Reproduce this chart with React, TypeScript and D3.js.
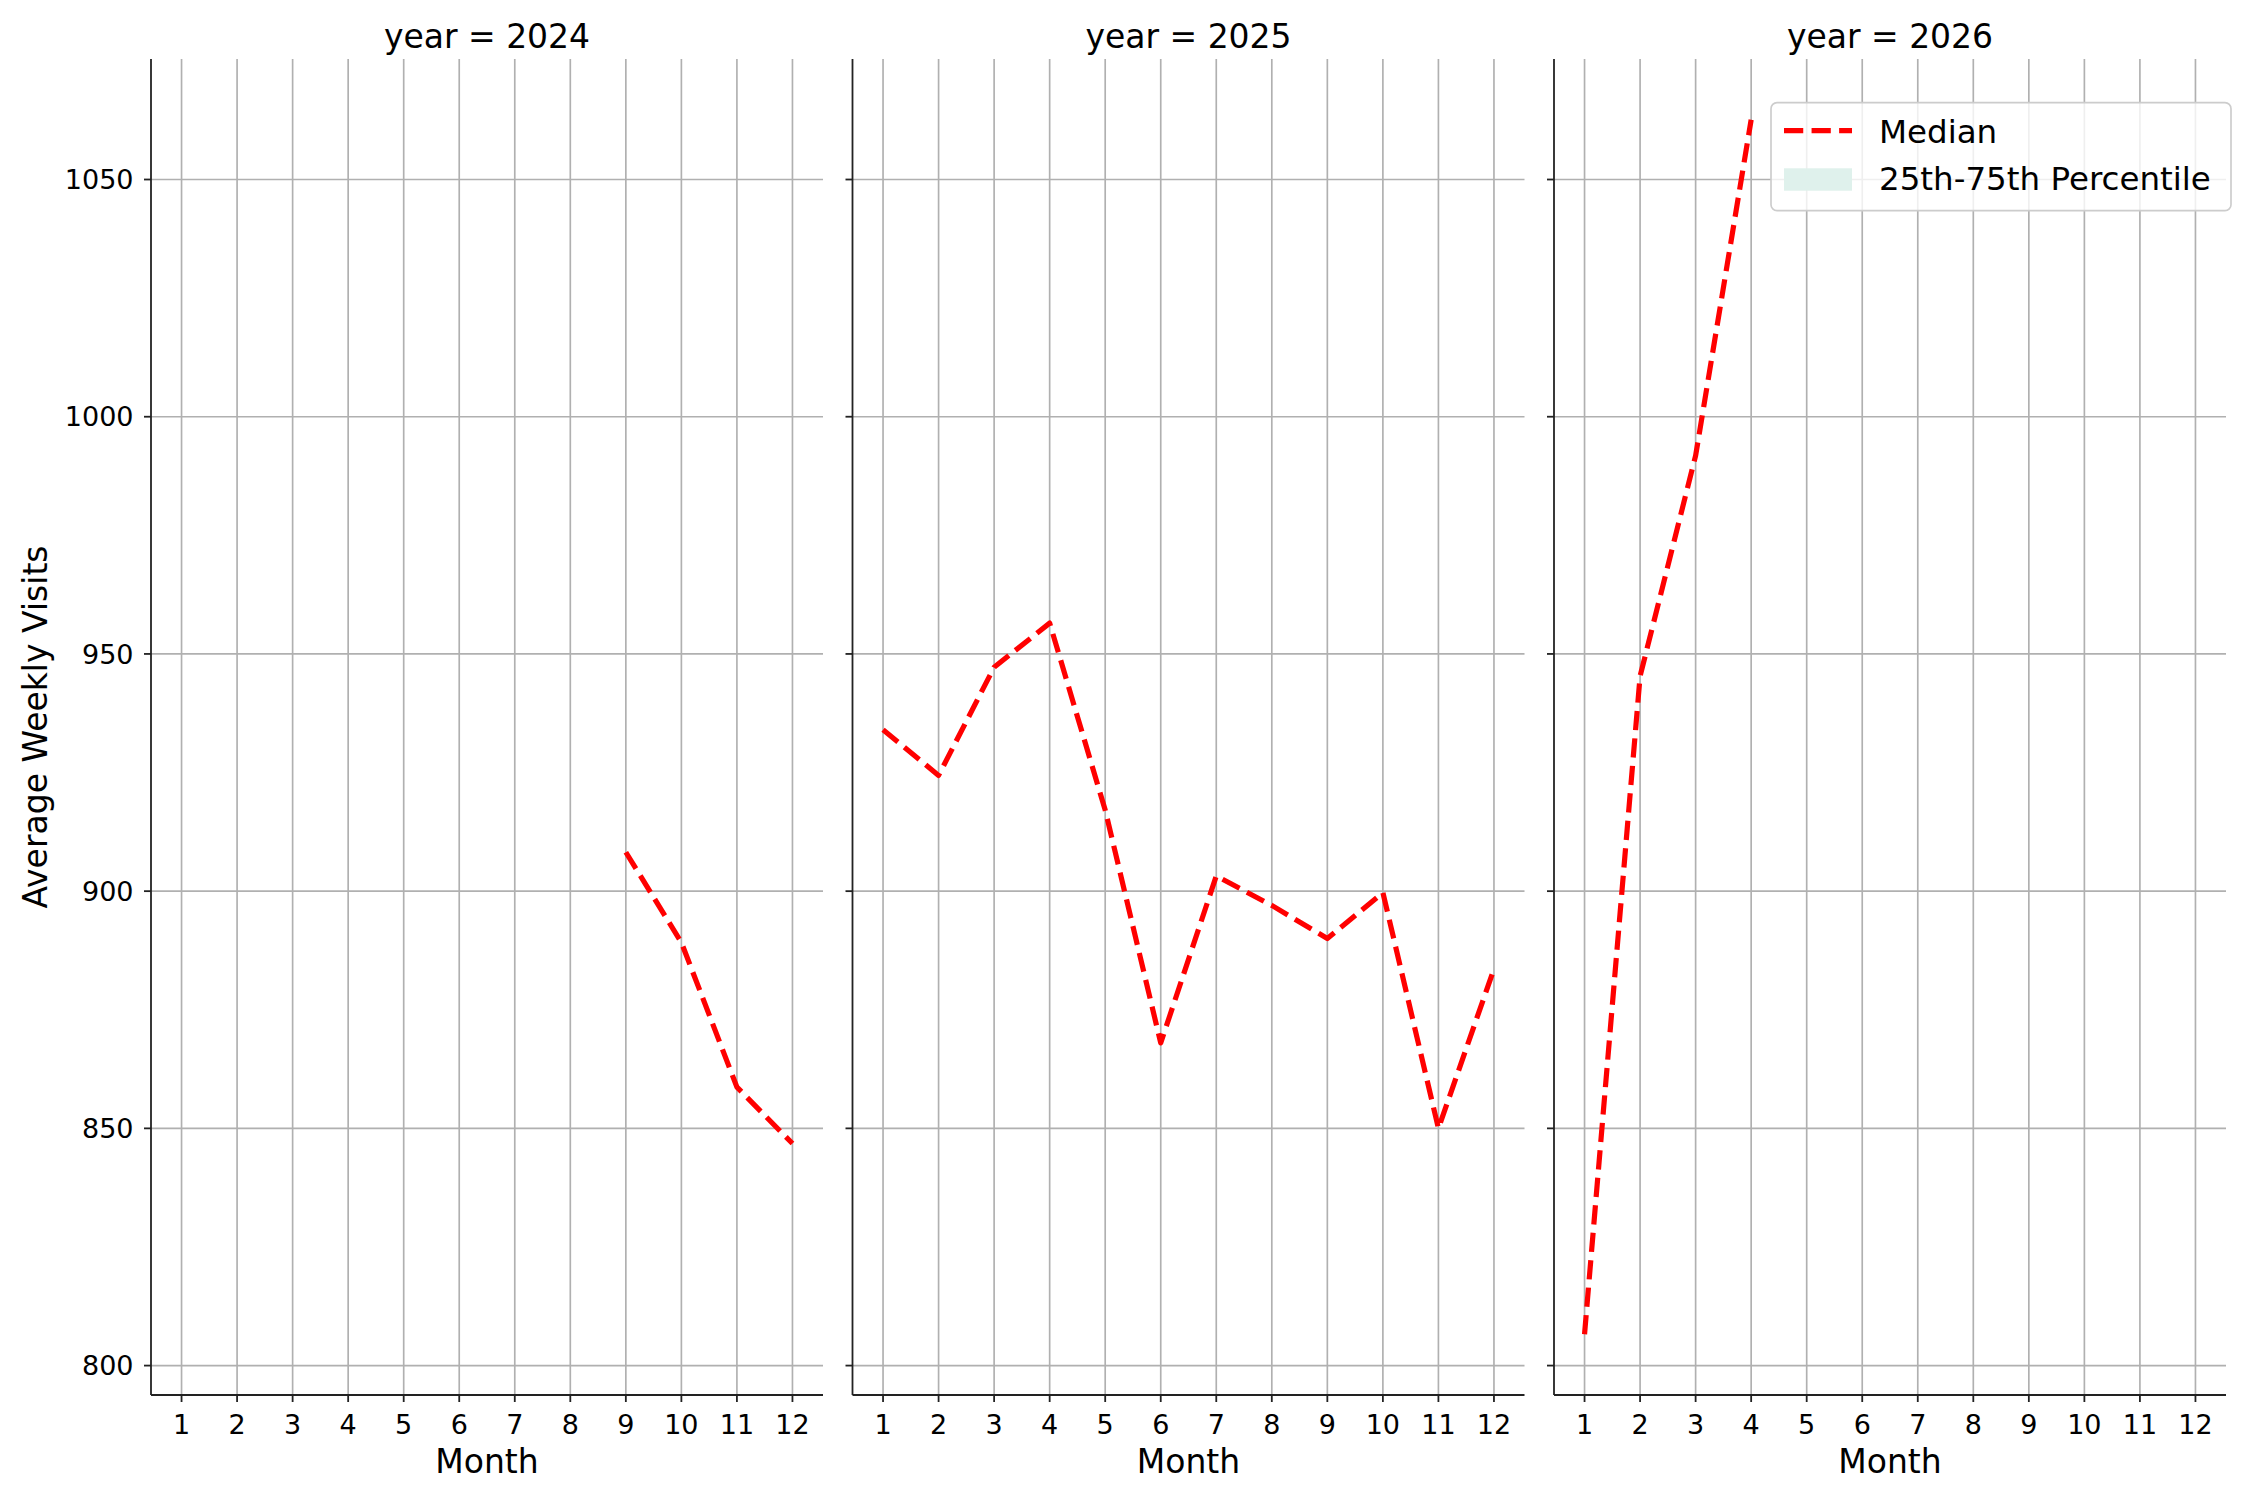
import * as d3 from "d3";

// data
const years = [2024, 2025, 2026];
const monthTicks = [1, 2, 3, 4, 5, 6, 7, 8, 9, 10, 11, 12];
const yTicks = [800, 850, 900, 950, 1000, 1050];

const months2024 = [9, 10, 11, 12];
const median2024 = [908.2, 889.2, 858.7, 846.8];

const months2025 = [1, 2, 3, 4, 5, 6, 7, 8, 9, 10, 11, 12];
const median2025 = [934.0, 924.4, 947.2, 956.5, 917.1, 868.0, 903.2, 897.0, 890.0, 899.7, 850.0, 883.6];

const months2026 = [1, 2, 3, 4];
const median2026 = [806.6, 945.3, 991.8, 1062.6];

const seriesByYear = [
  { months: months2024, values: median2024 },
  { months: months2025, values: median2025 },
  { months: months2026, values: median2026 },
];

const W = 2250;
const H = 1500;
const panelLefts = [151, 852.5, 1554];
const panelW = 672;
const top = 59;
const bottom = 1395;
const font = "'DejaVu Sans', sans-serif";
const lw = 5.2;
const dash = `${3.7 * lw} ${1.6 * lw}`;

export default function App() {
  const allVals = [...median2024, ...median2025, ...median2026];
  const [lo, hi] = d3.extent(allVals) as [number, number];
  const pad = (hi - lo) * 0.05;
  const y = d3.scaleLinear().domain([lo - pad, hi + pad]).range([bottom, top]);

  const x = d3.scaleLinear().domain([0.45, 12.55]).range([0, panelW]);

  const line = d3
    .line<[number, number]>()
    .x((d) => x(d[0]))
    .y((d) => y(d[1]));

  return (
    <svg width={W} height={H} style={{ display: "block", margin: -8, background: "#fff" }}>
      <rect width={W} height={H} fill="#fff" />
      {years.map((yr, i) => {
        const left = panelLefts[i];
        const s = seriesByYear[i];
        const pts = s.months.map((m, j) => [m, s.values[j]] as [number, number]);
        return (
          <g key={yr} transform={`translate(${left},0)`}>
            {/* grid */}
            {monthTicks.map((m) => (
              <line key={"gx" + m} x1={x(m)} x2={x(m)} y1={top} y2={bottom} stroke="#b0b0b0" strokeWidth={1.67} />
            ))}
            {yTicks.map((v) => (
              <line key={"gy" + v} x1={0} x2={panelW} y1={y(v)} y2={y(v)} stroke="#b0b0b0" strokeWidth={1.67} />
            ))}

            {/* median line */}
            <path
              d={line(pts) ?? ""}
              fill="none"
              stroke="#ff0000"
              strokeWidth={lw}
              strokeDasharray={dash}
              strokeLinejoin="round"
            />

            {/* spines */}
            <line x1={0} x2={0} y1={top} y2={bottom} stroke="#222" strokeWidth={1.8} />
            <line x1={0} x2={panelW} y1={bottom} y2={bottom} stroke="#222" strokeWidth={1.8} />

            {/* y ticks */}
            {yTicks.map((v) => (
              <g key={"ty" + v}>
                <line x1={-7} x2={0} y1={y(v)} y2={y(v)} stroke="#222" strokeWidth={1.8} />
                {i === 0 && (
                  <text x={-17.5} y={y(v)} dy="0.36em" textAnchor="end" fontFamily={font} fontSize={27}>
                    {v}
                  </text>
                )}
              </g>
            ))}

            {/* x ticks */}
            {monthTicks.map((m) => (
              <g key={"tx" + m}>
                <line x1={x(m)} x2={x(m)} y1={bottom} y2={bottom + 7} stroke="#222" strokeWidth={1.8} />
                <text x={x(m)} y={bottom + 38.5} textAnchor="middle" fontFamily={font} fontSize={27}>
                  {m}
                </text>
              </g>
            ))}

            <text x={panelW / 2} y={1472.7} textAnchor="middle" fontFamily={font} fontSize={33}>
              Month
            </text>
            <text x={panelW / 2} y={47.7} textAnchor="middle" fontFamily={font} fontSize={33}>
              {`year = ${yr}`}
            </text>
          </g>
        );
      })}

      <text
        transform={`translate(46.7,${(top + bottom) / 2}) rotate(-90)`}
        textAnchor="middle"
        fontFamily={font}
        fontSize={33}
      >
        Average Weekly Visits
      </text>

      {/* legend */}
      <g>
        <rect
          x={1771}
          y={102.7}
          width={460}
          height={108}
          rx={6}
          fill="#fff"
          fillOpacity={0.8}
          stroke="#cccccc"
          strokeWidth={1.67}
        />
        <line x1={1784} x2={1852} y1={130.7} y2={130.7} stroke="#ff0000" strokeWidth={lw} strokeDasharray={dash} />
        <text x={1879} y={142.7} fontFamily={font} fontSize={32.5}>
          Median
        </text>
        <rect x={1784} y={168.3} width={68} height={22.4} fill="#dff1ec" />
        <text x={1879} y={190} fontFamily={font} fontSize={32.5}>
          25th-75th Percentile
        </text>
      </g>
    </svg>
  );
}
